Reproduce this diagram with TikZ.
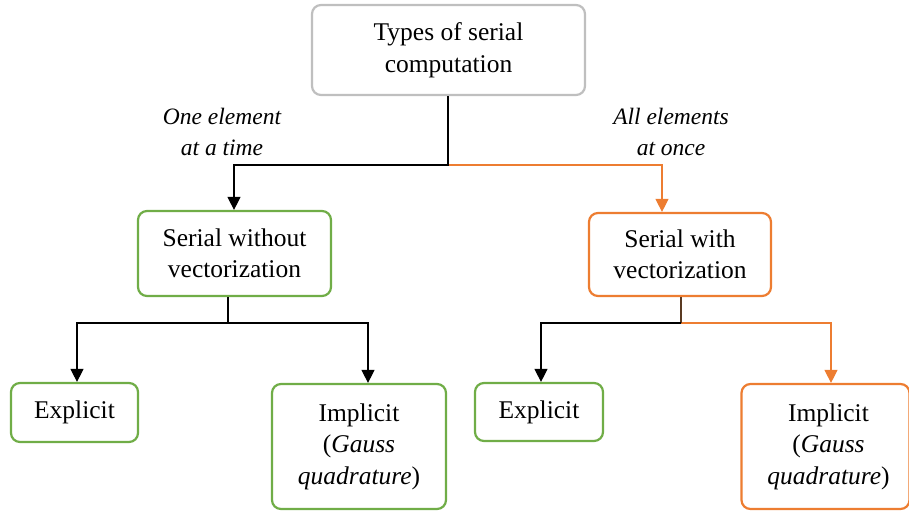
\documentclass[tikz,border=0pt]{standalone}
\usepackage{fontspec}
\setmainfont{Liberation Serif}
\usetikzlibrary{arrows.meta}
\definecolor{bxgreen}{HTML}{70AD47}
\definecolor{bxorange}{HTML}{ED7D31}
\definecolor{bxgray}{HTML}{BFBFBF}
\definecolor{stembrown}{HTML}{5A3A22}
\tikzset{
  bx/.style={draw, rounded corners=9pt, line width=2.2pt, fill=white, align=center,
    font=\fontsize{25.5}{31.5}\selectfont, inner sep=0pt},
  lbl/.style={align=center, font=\fontsize{23.5}{31}\selectfont\itshape},
  con/.style={line width=1.1pt},
  arr/.style={con, -{Triangle[width=13pt,length=13pt]}},
}
\begin{document}
\begin{tikzpicture}[x=1pt,y=-1pt]
\useasboundingbox (0,0) rectangle (909,513);
% boxes
\node[bx, draw=bxgray, minimum width=273pt, minimum height=90pt] (top) at (448.5,50) {Types of serial\\computation};
\node[bx, draw=bxgreen, minimum width=193pt, minimum height=85pt] (sw) at (234.5,253.5) {Serial without\\vectorization};
\node[bx, draw=bxorange, minimum width=182pt, minimum height=83pt] (sv) at (680,254.5) {Serial with\\vectorization};
\node[bx, draw=bxgreen, minimum width=127pt, minimum height=59pt] (e1) at (74.5,412.5) {Explicit};
\node[bx, draw=bxgreen, minimum width=174pt, minimum height=125pt] (i1) at (359,446.5) {Implicit\\(\textit{Gauss}\\\textit{quadrature})};
\node[bx, draw=bxgreen, minimum width=128pt, minimum height=58pt] (e2) at (539,412) {Explicit};
\node[bx, draw=bxorange, minimum width=168pt, minimum height=125pt] (i2) at (825.5,446.5) {\kern6pt Implicit\\\kern6pt(\textit{Gauss}\\\kern6pt\textit{quadrature})};
% labels
\node[lbl] (l1) at (222,132) {One element\\at a time};
\node[lbl] (l2) at (671,132) {All elements\\at once};
% junction and entry coordinates
\coordinate (j0) at (448,165);
\coordinate (j1) at (228,323);
\coordinate (j2) at (681,323);
\coordinate (xsw) at (234,0);
\coordinate (xsv) at (662,0);
\coordinate (xe1) at (77,0);
\coordinate (xi1) at (368,0);
\coordinate (xe2) at (541,0);
\coordinate (xi2) at (831,0);
% top connectors
\draw[arr, bxorange] (j0) -| (sv.north -| xsv);
\draw[arr] (top.south -| j0) -- (j0) -| (sw.north -| xsw);
% left connectors
\draw[con] (sw.south -| j1) -- (j1);
\draw[arr] (j1) -| (e1.north -| xe1);
\draw[arr] (j1) -| (i1.north -| xi1);
% right connectors
\draw[arr, bxorange] (j2) -| (i2.north -| xi2);
\draw[con, stembrown] (sv.south -| j2) -- (j2);
\draw[arr] (j2) -| (e2.north -| xe2);
\end{tikzpicture}
\end{document}
